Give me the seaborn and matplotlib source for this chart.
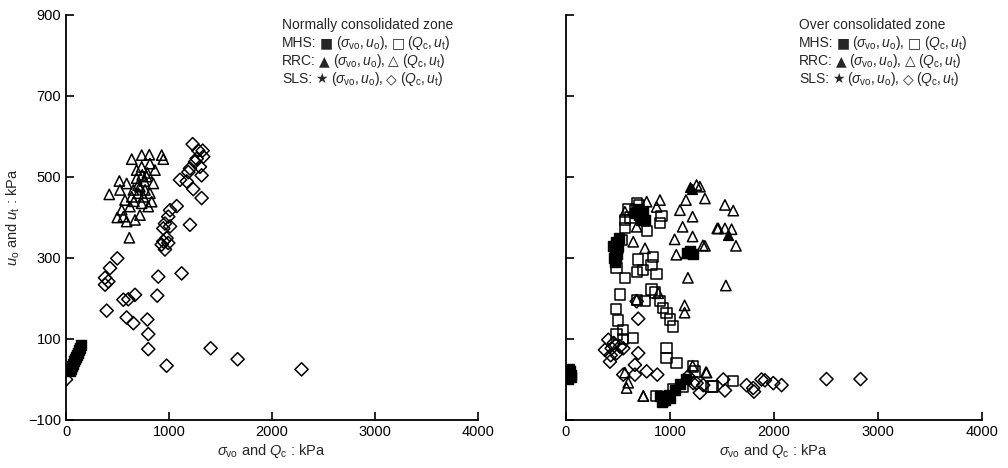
import matplotlib
matplotlib.use("Agg")
import matplotlib.pyplot as plt
import seaborn as sns
import pandas as pd

# ---------------- data: Normally consolidated zone (left) ----------------
L_mhs_sv_x = [40, 50, 60, 70, 80, 90, 100, 110, 120, 130, 140, 150]
L_mhs_sv_y = [20, 27, 33, 39, 45, 51, 56, 61, 66, 72, 78, 84]

L_rrc_qc_x = [420, 518, 498, 615, 638, 735, 809, 929, 945, 735, 686, 783, 718, 815, 799,
              718, 589, 670, 541, 573, 638, 524, 589, 751, 848, 864, 815, 686, 767, 621,
              557, 735, 832, 654, 702, 760, 700, 790, 740, 660]
L_rrc_qc_y = [457, 490, 400, 350, 544, 554, 555, 554, 544, 525, 497, 501, 476, 460, 427,
              406, 390, 394, 419, 443, 451, 468, 484, 451, 484, 517, 533, 517, 468, 427,
              402, 435, 439, 468, 460, 490, 480, 510, 505, 440]

L_sls_qc_x = [0, 1230, 1333, 1285, 1252, 1204, 1301, 1317, 1188, 1269, 1327, 1107, 1172,
              1236, 1317, 1204, 1075, 1010, 993, 961, 945, 1010, 977, 929, 961, 945, 993,
              498, 427, 379, 379, 411, 896, 1123, 395, 557, 605, 670, 886, 589, 654, 790,
              799, 799, 977, 1405, 1667, 2288]
L_sls_qc_y = [0, 581, 550, 565, 537, 521, 525, 504, 512, 545, 565, 493, 489,
              470, 448, 382, 428, 418, 402, 385, 373, 378, 349, 333, 321, 341, 337,
              299, 275, 251, 234, 242, 254, 262, 170, 197, 198, 209, 207, 153, 139, 148,
              112, 75, 34, 77, 50, 25]

# ---------------- data: Over consolidated zone (right) ----------------
R_mhs_sv_x = [20, 30, 40, 50, 25, 45, 460, 470, 480, 490, 500, 470, 510, 455, 480,
              660, 700, 730, 760, 690, 740, 720, 1160, 1190, 1220,
              900, 930, 960, 990, 920, 950, 1050, 1100, 1150, 1000]
R_mhs_sv_y = [0, 10, 20, 5, 25, 12, 300, 320, 340, 310, 330, 290, 350, 330, 300,
              410, 405, 400, 395, 420, 415, 395, 312, 318, 310,
              -40, -45, -42, -38, -55, -50, -25, -10, 0, -45]

R_rrc_sv_x = [1190, 1210, 1150, 1175, 1200, 1561]
R_rrc_sv_y = [475, 470, 312, 318, 312, 357]

R_mhs_qc_x = [680, 663, 920, 904, 776, 567, 567, 535, 503, 487, 567, 695, 680, 744, 840,
              824, 872, 519, 481, 503, 487, 551, 647, 680, 760, 824, 856, 904, 936, 968,
              1000, 1032, 968, 968, 1064, 1224, 1240, 1417, 1032, 936, 1401, 1609, 872,
              1128, 551, 700, 600, 620]
R_mhs_qc_y = [435, 418, 404, 386, 366, 394, 374, 345, 324, 275, 251, 296, 266, 270, 303,
              283, 261, 210, 174, 146, 111, 100, 103, 197, 193, 222, 215, 193, 176, 164,
              148, 131, 78, 53, 41, 32, 20, -17, -25, -53, -17, -4, -40,
              -17, 123, 430, 420, 400]

R_rrc_qc_x = [1256, 1337, 1154, 1096, 1218, 1122, 1455, 1218, 1045, 1317, 1061, 1173, 1141,
              1141, 776, 904, 872, 567, 680, 647, 760, 680, 567, 599, 744, 1353, 1218,
              888, 1288, 1529, 1609, 1465, 1529, 1593, 1337, 1635, 1538, 1346, 583, 744]
R_rrc_qc_y = [480, 447, 443, 418, 402, 377, 373, 353, 346, 331, 308, 251, 183,
              165, 439, 443, 426, 414, 377, 340, 324, 197, 17, -8, -41, 17, 34,
              213, 476, 431, 417, 373, 373, 371, 330, 330, 232, 18, -21, -41]

R_sls_qc_x = [407, 375, 439, 487, 423, 519, 551, 695, 695, 663, 551, 663, 776, 878, 680,
              1176, 1256, 1288, 2506, 2833, 2074, 1994, 1914, 1881, 1801, 1737, 1513,
              1529, 1224, 1320, 1808, 460, 430]
R_sls_qc_y = [98, 73, 77, 65, 44, 81, 77, 150, 65, 36, 12, 12, 20, 12, 193,
              8, -9, -33, 1, 1, -14, -9, -2, 0, -21, -14, 0,
              -27, -9, -14, -30, 90, 60]

left_title = "Normally consolidated zone"
right_title = "Over consolidated zone"
legend_groups = ["MHS:", "RRC:", "SLS:"]
legend_filled = ["■", "▲", "★"]
legend_open = ["□", "△", "◇"]
sv_text = r"$(\sigma_{\rm vo}, u_{\rm o})$,"
qc_text = r"$(Q_{\rm c}, u_{\rm t})$"
x_ticks = [0, 1000, 2000, 3000, 4000]
y_ticks = [-100, 100, 300, 500, 700, 900]

# ---------------- plotting ----------------
sns.set_style("ticks")
plt.rcParams['font.family'] = ['Liberation Sans', 'DejaVu Sans']
plt.rcParams['mathtext.fontset'] = 'custom'
plt.rcParams['mathtext.rm'] = 'Liberation Sans'
plt.rcParams['mathtext.it'] = 'Liberation Sans:italic'

fig = plt.figure(figsize=(10.08, 4.68), dpi=100)
axL = fig.add_axes([0.0655, 0.1026, 0.4085, 0.8654])
axR = fig.add_axes([0.5615, 0.1026, 0.4125, 0.8654])

def open_pts(ax, xs, ys, marker, s):
    df = pd.DataFrame({"x": xs, "y": ys})
    sns.scatterplot(data=df, x="x", y="y", ax=ax, marker=marker, s=s,
                    facecolor="none", edgecolor="black", linewidth=1.1, zorder=3)

def filled_pts(ax, xs, ys, marker, s):
    df = pd.DataFrame({"x": xs, "y": ys})
    sns.scatterplot(data=df, x="x", y="y", ax=ax, marker=marker, s=s,
                    color="black", edgecolor="black", linewidth=1.0, zorder=4)

open_pts(axL, L_rrc_qc_x, L_rrc_qc_y, "^", 55)
open_pts(axL, L_sls_qc_x, L_sls_qc_y, "D", 45)
filled_pts(axL, L_mhs_sv_x, L_mhs_sv_y, "s", 45)

open_pts(axR, R_mhs_qc_x, R_mhs_qc_y, "s", 55)
open_pts(axR, R_rrc_qc_x, R_rrc_qc_y, "^", 55)
open_pts(axR, R_sls_qc_x, R_sls_qc_y, "D", 45)
filled_pts(axR, R_mhs_sv_x, R_mhs_sv_y, "s", 45)
filled_pts(axR, R_rrc_sv_x, R_rrc_sv_y, "^", 50)

def legend_line(ax, x0, y0, parts):
    """Draw a legend line from several text pieces placed one after another."""
    fig.canvas.draw() if False else None
    x = x0
    renderer = fig.canvas.get_renderer()
    for txt, fam in parts:
        t = ax.text(x, y0, txt, transform=ax.transAxes, ha="left", va="baseline",
                    fontsize=10, family=fam)
        bb = t.get_window_extent(renderer=renderer)
        inv = ax.transAxes.inverted()
        x = inv.transform((bb.x1 + 3, 0))[0]

for ax, title, tx in [(axL, left_title, 0.525), (axR, right_title, 0.56)]:
    ax.set_xlim(0, 4000)
    ax.set_ylim(-100, 900)
    ax.set_xticks(x_ticks)
    ax.set_yticks(y_ticks)
    ax.tick_params(direction="in", length=6, width=1.2, labelsize=10.5, colors="black")
    for sp in ["top", "right"]:
        ax.spines[sp].set_visible(False)
    for sp in ["left", "bottom"]:
        ax.spines[sp].set_linewidth(1.3)
        ax.spines[sp].set_color("black")
    ax.set_xlabel(r"$\sigma_{\rm vo}$ and $Q_{\rm c}$ : kPa", fontsize=10.5, labelpad=2)
    ax.set_ylabel("")

axL.set_ylabel(r"$u_{\rm o}$ and $u_{\rm t}$ : kPa", fontsize=10.5, labelpad=4)
axR.set_yticklabels([])

fig.canvas.draw()
step = 18.0 / (0.8654 * 468)
for ax, title, tx in [(axL, left_title, 0.525), (axR, right_title, 0.56)]:
    y0 = 0.965
    ax.text(tx, y0, title, transform=ax.transAxes, ha="left", va="baseline", fontsize=10)
    for i in range(3):
        yy = y0 - step * (i + 1)
        legend_line(ax, tx, yy, [(legend_groups[i], "Liberation Sans"),
                                 (legend_filled[i], "DejaVu Sans"),
                                 (sv_text, "Liberation Sans"),
                                 (legend_open[i], "DejaVu Sans"),
                                 (qc_text, "Liberation Sans")])

fig.savefig("out.png", dpi=100)
